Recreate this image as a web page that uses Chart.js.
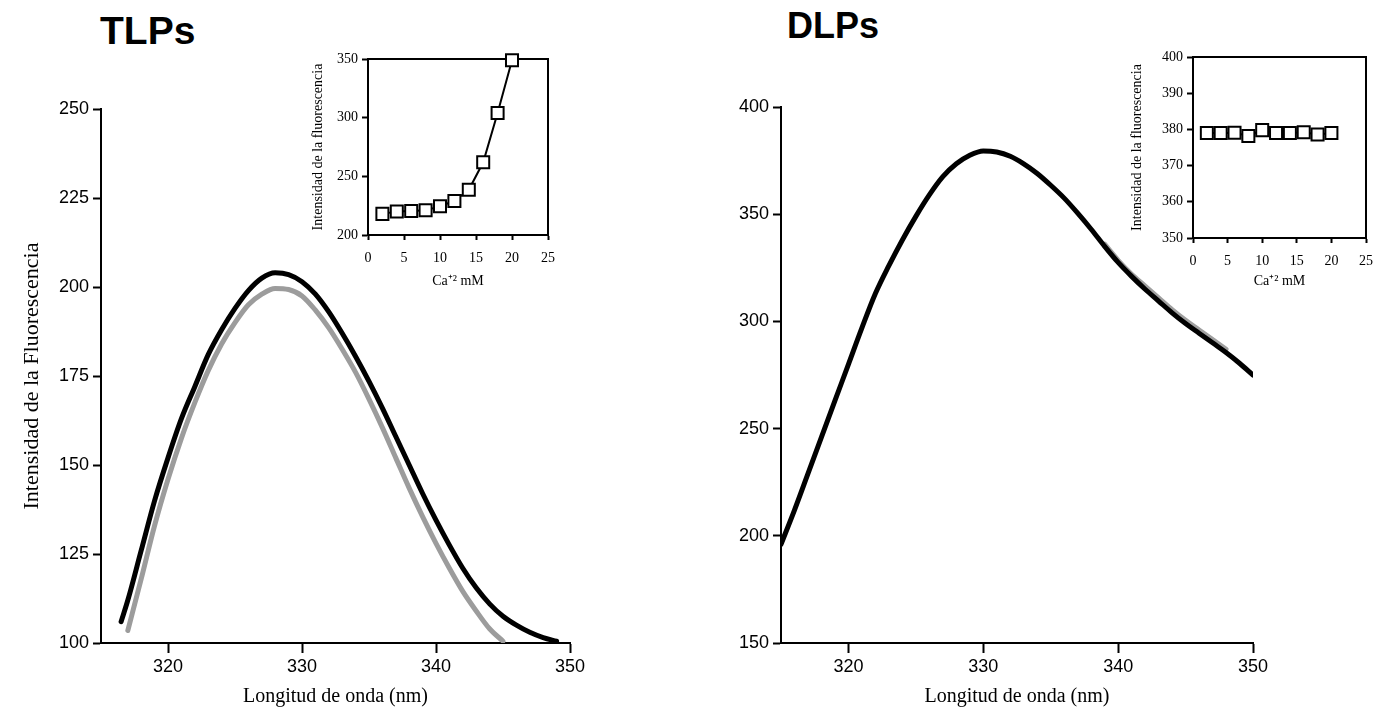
<!DOCTYPE html>
<html>
<head>
<meta charset="utf-8">
<script src="https://cdn.jsdelivr.net/npm/chart.js@4.4.0/dist/chart.umd.min.js"></script>
<style>
  body { margin: 0; background: #fff; width: 1383px; height: 716px; position: relative; overflow: hidden; }
  canvas { position: absolute; }
  .titulo { position: absolute; font-family: 'Liberation Sans', Arial, sans-serif; font-weight: bold; line-height: 1; color: #000; }
</style>
</head>
<body>
<div class="titulo" style="left:100px; top:11px; font-size:39px;">TLPs</div>
<div class="titulo" style="left:787px; top:8px; font-size:36px;">DLPs</div>
<canvas id="tlp" width="690" height="716" style="left:0;top:0"></canvas>
<canvas id="dlp" width="693" height="716" style="left:690px;top:0"></canvas>
<canvas id="tlpCa" width="285" height="270" style="left:290px;top:30px"></canvas>
<canvas id="dlpCa" width="278" height="270" style="left:1105px;top:30px"></canvas>
<script>
// ---- Datos ----
// TLPs, curva negra
const tlpNegroX = [316.5, 317, 318, 319, 320, 321, 322, 323, 324, 325, 326, 327, 328, 329, 330, 331, 332, 333, 334, 335, 336, 337, 338, 339, 340, 341, 342, 343, 344, 345, 346, 347, 348, 349];
const tlpNegroY = [106, 112, 126, 140, 152, 163, 172, 181, 188, 194, 199, 202.5, 204, 203.5, 201.5, 198, 193, 187, 180.5, 173.5, 166, 158, 150, 142, 134.5, 127.5, 121, 115.5, 111, 107.5, 105, 103, 101.5, 100.5];
// TLPs, curva gris
const tlpGrisX = [317, 318, 319, 320, 321, 322, 323, 324, 325, 326, 327, 328, 329, 330, 331, 332, 333, 334, 335, 336, 337, 338, 339, 340, 341, 342, 343, 344, 345];
const tlpGrisY = [103.5, 118, 133, 146, 157.5, 167.5, 176.5, 184, 190, 195, 198, 199.6, 199.3, 197.5, 193.5, 188.5, 182.5, 176, 168.5, 160.5, 152, 143.5, 135.5, 128, 121, 114.5, 109, 104, 100.5];
// DLPs
const dlpX = [315, 316, 317, 318, 319, 320, 321, 322, 323, 324, 325, 326, 327, 328, 329, 330, 331, 332, 333, 334, 335, 336, 337, 338, 339, 340, 341, 342, 343, 344, 345, 346, 347, 348, 349, 350];
const dlpY = [196, 212, 229, 246, 263, 280, 297, 313, 326, 338, 349, 359, 367.5, 373.5, 377.5, 379.5, 379, 377, 373.5, 369, 363.5, 357.5, 350.5, 343, 335, 327.5, 321, 315, 309.5, 304, 299, 294.5, 290, 285.5, 280.5, 275];
const dlpGrisX = [339, 340, 341, 342, 343, 344, 345, 346, 347, 348];
const dlpGrisY = [336, 328.5, 322, 316.5, 311, 305.5, 300.5, 296, 291.5, 287];

// Recuadros: Ca+2 mM
const caX = [2, 4, 6, 8, 10, 12, 14, 16, 18, 20];
const tlpCa = [218, 220, 220.5, 221, 224.5, 229, 238.5, 262, 304, 349];
const dlpCa = [379, 379, 379.1, 378.2, 379.8, 379, 379, 379.2, 378.6, 379];

// Ticks
const ondaTicks = [320, 330, 340, 350];
const tlpTicks = [100, 125, 150, 175, 200, 225, 250];
const dlpTicks = [150, 200, 250, 300, 350, 400];
const caTicks = [0, 5, 10, 15, 20, 25];
const tlpCaTicks = [200, 250, 300, 350];
const dlpCaTicks = [350, 360, 370, 380, 390, 400];

const sans = "'Liberation Sans', Arial, sans-serif";
const serif = "'Liberation Serif', 'Times New Roman', serif";

const toPoints = (xs, ys) => xs.map((x, i) => ({ x: x, y: ys[i] }));
const fijarTicks = (valores) => (scale) => { scale.ticks = valores.map(v => ({ value: v })); };

// marco completo para los recuadros
const marco = {
  id: 'marco',
  beforeDatasetsDraw(chart) {
    const { ctx, chartArea: a } = chart;
    ctx.save();
    ctx.strokeStyle = '#000';
    ctx.lineWidth = 2;
    ctx.strokeRect(a.left, a.top, a.right - a.left, a.bottom - a.top);
    ctx.restore();
  }
};

const linea = (xs, ys, color, ancho) => ({
  data: toPoints(xs, ys),
  borderColor: color,
  borderWidth: ancho,
  pointRadius: 0,
  cubicInterpolationMode: 'monotone',
  borderCapStyle: 'round',
  borderJoinStyle: 'round',
  fill: false
});

// ---- Graficos principales ----
const grafico = (id, datasets, o) => new Chart(document.getElementById(id), {
  type: 'line',
  data: { datasets: datasets },
  options: {
    responsive: false,
    animation: false,
    devicePixelRatio: 1,
    layout: { padding: o.padding },
    plugins: { legend: { display: false }, tooltip: { enabled: false } },
    scales: {
      x: {
        type: 'linear', min: 315, max: 350,
        afterBuildTicks: fijarTicks(ondaTicks),
        afterFit: (s) => { s.height = 66; },
        border: { color: '#000', width: 2 },
        grid: { drawOnChartArea: false, tickLength: 10, tickWidth: 2, color: '#000' },
        ticks: { color: '#000', font: { family: sans, size: 18 }, padding: 3, maxRotation: 0, autoSkip: false },
        title: { display: true, text: 'Longitud de onda (nm)', color: '#000', font: { family: serif, size: 20 }, padding: 0 }
      },
      y: {
        type: 'linear', min: o.yMin, max: o.yMax,
        afterBuildTicks: fijarTicks(o.yTicks),
        afterFit: (s) => { s.width = o.yWidth; },
        border: { color: '#000', width: 2 },
        grid: { drawOnChartArea: false, tickLength: 8, tickWidth: 2, color: '#000' },
        ticks: { color: '#000', font: { family: sans, size: 18 }, padding: 4, autoSkip: false },
        title: { display: o.yTitle !== '', text: o.yTitle, color: '#000', font: { family: serif, size: 22 }, padding: { top: 19 } }
      }
    }
  }
});

grafico('tlp', [linea(tlpNegroX, tlpNegroY, '#000', 5), linea(tlpGrisX, tlpGrisY, '#9c9c9c', 5)], {
  padding: { top: 109, right: 120, bottom: 7, left: 0 },
  yMin: 100, yMax: 250, yTicks: tlpTicks, yWidth: 101,
  yTitle: 'Intensidad de la Fluorescencia'
});

grafico('dlp', [linea(dlpX, dlpY, '#000', 5), linea(dlpGrisX, dlpGrisY, '#a0a0a0', 5)], {
  padding: { top: 107, right: 130, bottom: 7, left: 0 },
  yMin: 150, yMax: 400, yTicks: dlpTicks, yWidth: 91,
  yTitle: ''
});

// ---- Recuadros ----
const recuadro = (id, ys, o) => new Chart(document.getElementById(id), {
  type: 'line',
  data: {
    datasets: [{
      data: toPoints(caX, ys),
      borderColor: '#000',
      borderWidth: 2,
      pointStyle: 'rect',
      pointRadius: 8.5,
      pointBorderWidth: 2,
      pointBackgroundColor: '#fff',
      pointBorderColor: '#000',
      tension: 0,
      clip: false
    }]
  },
  options: {
    responsive: false,
    animation: false,
    devicePixelRatio: 1,
    layout: { padding: o.padding },
    plugins: { legend: { display: false }, tooltip: { enabled: false } },
    scales: {
      x: {
        type: 'linear', min: 0, max: 25,
        afterBuildTicks: fijarTicks(caTicks),
        afterFit: (s) => { s.height = o.xHeight; },
        border: { color: '#000', width: 2 },
        grid: { drawOnChartArea: false, tickLength: 5, tickWidth: 2, color: '#000' },
        ticks: { color: '#000', font: { family: serif, size: 14 }, padding: 10, maxRotation: 0, autoSkip: false },
        title: { display: true, text: 'Ca⁺² mM', color: '#000', font: { family: serif, size: 14 }, padding: 0 }
      },
      y: {
        type: 'linear', min: o.yMin, max: o.yMax,
        afterBuildTicks: fijarTicks(o.yTicks),
        afterFit: (s) => { s.width = o.yWidth; },
        border: { color: '#000', width: 2 },
        grid: { drawOnChartArea: false, tickLength: 6, tickWidth: 2, color: '#000' },
        ticks: { color: '#000', font: { family: serif, size: 14 }, padding: 4, autoSkip: false },
        title: { display: true, text: 'Intensidad de la fluorescencia', color: '#000', font: { family: serif, size: 14 }, padding: { top: o.yTitlePad } }
      }
    }
  },
  plugins: [marco]
});

recuadro('tlpCa', tlpCa, {
  padding: { top: 29, right: 27, bottom: 10, left: 0 },
  xHeight: 55, yWidth: 78, yTitlePad: 20,
  yMin: 200, yMax: 350, yTicks: tlpCaTicks
});

recuadro('dlpCa', dlpCa, {
  padding: { top: 27, right: 10, bottom: 10, left: 0 },
  xHeight: 52, yWidth: 88, yTitlePad: 24,
  yMin: 350, yMax: 400, yTicks: dlpCaTicks
});
</script>
</body>
</html>
